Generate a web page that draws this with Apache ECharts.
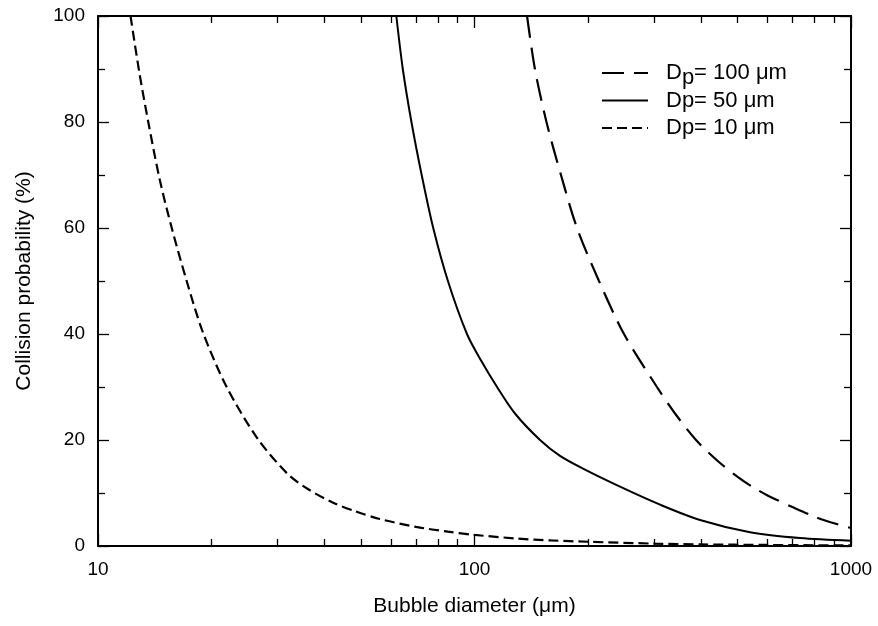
<!DOCTYPE html>
<html>
<head>
<meta charset="utf-8">
<script src="https://cdn.jsdelivr.net/npm/echarts@6/dist/echarts.min.js"></script>
<style>html,body{margin:0;padding:0;background:#fff}#c{width:878px;height:626px}</style>
</head>
<body>
<div id="c"></div>
<script>
// ---- data ----
const xMajorTicks = [10, 100, 1000];
const xMinorTicks = [20, 30, 40, 50, 60, 70, 80, 90, 200, 300, 400, 500, 600, 700, 800, 900];
const yTicks = [0, 20, 40, 60, 80, 100];

const seriesNames = ['Dp100', 'Dp50', 'Dp10'];

const diam100 = [137.9, 144.7, 155.3, 169.7, 187.2, 214.1, 249.5, 305.2, 340.9, 387.6, 443.4, 501.1, 546, 601.9, 701.3, 802.3, 901.1, 1000];
const prob100 = [100, 90, 80, 70, 60, 50, 40, 30, 25, 20, 16, 13, 11.2, 9.5, 7.3, 5.5, 4.3, 3.4];

const diam50 = [62, 64.5, 68, 72.4, 77.7, 85, 95.5, 104.1, 114.8, 128.1, 149.3, 168.7, 194.2, 243.5, 311.1, 397.2, 539.2, 731.9, 1000];
const prob50 = [100, 90, 80, 70, 60, 50, 40, 35, 30, 25, 20, 17, 14.6, 11.2, 7.8, 4.9, 2.6, 1.5, 1.0];

const diam10 = [12.2, 12.9, 13.6, 14.6, 15.7, 17.2, 19, 22, 26.7, 32, 36, 42, 48, 56, 70, 85, 100, 130, 160, 200, 300, 400, 600, 1000];
const prob10 = [100, 89, 80, 69, 60, 50, 40.3, 29.9, 20, 13.5, 10.8, 8.2, 6.6, 5.1, 3.6, 2.7, 2.1, 1.4, 1.05, 0.8, 0.45, 0.3, 0.2, 0.1];

// ---- chart ----
const FONT = '"Liberation Sans", Arial, sans-serif';
const black = '#000';
const frame = { show: true, lineStyle: { color: black, width: 2 } };
const tickLine = { color: black, width: 1.3 };
const tickLbl = { color: black, fontSize: 19, fontFamily: FONT };
const titleLbl = { color: black, fontSize: 21, fontFamily: FONT };

function zip(xs, ys) { return xs.map((x, i) => [x, ys[i]]); }

const logMinor = xMinorTicks.map(v => Math.log10(v));

const legendText = {
  Dp100: '{a|D}{s|p}{a|= 100 \u03bcm}',
  Dp50: '{a|Dp= 50 \u03bcm}{z|\u200b}',
  Dp10: '{a|Dp= 10 \u03bcm}{z|\u200b}'
};

const chart = echarts.init(document.getElementById('c'), null, { renderer: 'canvas' });
chart.setOption({
  backgroundColor: '#fff',
  animation: false,
  grid: { left: 98, right: 27, top: 16, bottom: 80, containLabel: false },
  legend: {
    orient: 'vertical',
    left: 596,
    top: 57,
    itemWidth: 46,
    itemHeight: 14,
    itemGap: 1,
    data: seriesNames,
    formatter: n => legendText[n],
    itemStyle: { color: 'rgba(0,0,0,0)', borderWidth: 0, opacity: 0 },
    textStyle: {
      color: black, fontSize: 22, fontFamily: FONT, padding: [0, 0, 0, 13],
      rich: {
        a: { color: black, fontSize: 22, fontFamily: FONT },
        s: { color: black, fontSize: 22, fontFamily: FONT, padding: [9, 0, 0, 0] },
        z: { color: black, fontSize: 22, fontFamily: FONT, padding: [9, 0, 0, 0] }
      }
    }
  },
  xAxis: [
    {
      type: 'log', logBase: 10, min: 10, max: 1000, position: 'bottom',
      axisLine: frame,
      axisTick: { show: true, inside: true, length: 12, lineStyle: tickLine },
      axisLabel: Object.assign({ margin: 14, formatter: v => String(v) }, tickLbl),
      splitLine: { show: false },
      name: 'Bubble diameter (\u03bcm)', nameLocation: 'middle', nameGap: 50,
      nameTextStyle: titleLbl
    },
    {
      type: 'value', min: 1, max: 3, position: 'bottom',
      axisLine: { show: false },
      axisTick: { show: true, inside: true, length: 7, lineStyle: tickLine, customValues: logMinor },
      axisLabel: { show: false },
      splitLine: { show: false }
    },
    {
      type: 'log', logBase: 10, min: 10, max: 1000, position: 'top',
      axisLine: frame,
      axisTick: { show: true, inside: true, length: 12, lineStyle: tickLine },
      axisLabel: { show: false },
      splitLine: { show: false }
    },
    {
      type: 'value', min: 1, max: 3, position: 'top',
      axisLine: { show: false },
      axisTick: { show: true, inside: true, length: 7, lineStyle: tickLine, customValues: logMinor },
      axisLabel: { show: false },
      splitLine: { show: false }
    }
  ],
  yAxis: [
    {
      type: 'value', min: 0, max: 100, interval: 20, position: 'left',
      axisLine: frame,
      axisTick: { show: true, inside: true, length: 11, lineStyle: tickLine },
      minorTick: { show: true, splitNumber: 2, length: 7, lineStyle: tickLine },
      axisLabel: Object.assign({ margin: 13, customValues: yTicks }, tickLbl),
      splitLine: { show: false },
      minorSplitLine: { show: false },
      name: 'Collision probability (%)', nameLocation: 'middle', nameGap: 63,
      nameTextStyle: titleLbl
    },
    {
      type: 'value', min: 0, max: 100, interval: 20, position: 'right',
      axisLine: frame,
      axisTick: { show: true, inside: true, length: 11, lineStyle: tickLine },
      minorTick: { show: true, splitNumber: 2, length: 7, lineStyle: tickLine },
      axisLabel: { show: false },
      splitLine: { show: false }
    }
  ],
  series: [
    {
      name: 'Dp100', type: 'line', xAxisIndex: 0, yAxisIndex: 0,
      data: zip(diam100, prob100), symbol: 'none', smooth: 0.3,
      lineStyle: { color: black, width: 2.2, type: [22, 10] }, itemStyle: { color: black },
      clip: true
    },
    {
      name: 'Dp50', type: 'line', xAxisIndex: 0, yAxisIndex: 0,
      data: zip(diam50, prob50), symbol: 'none', smooth: 0.3,
      lineStyle: { color: black, width: 2, type: 'solid' }, itemStyle: { color: black },
      clip: true
    },
    {
      name: 'Dp10', type: 'line', xAxisIndex: 0, yAxisIndex: 0,
      data: zip(diam10, prob10), symbol: 'none', smooth: 0.3,
      lineStyle: { color: black, width: 2.2, type: [10, 5] }, itemStyle: { color: black },
      clip: true
    }
  ]
});
</script>
</body>
</html>
